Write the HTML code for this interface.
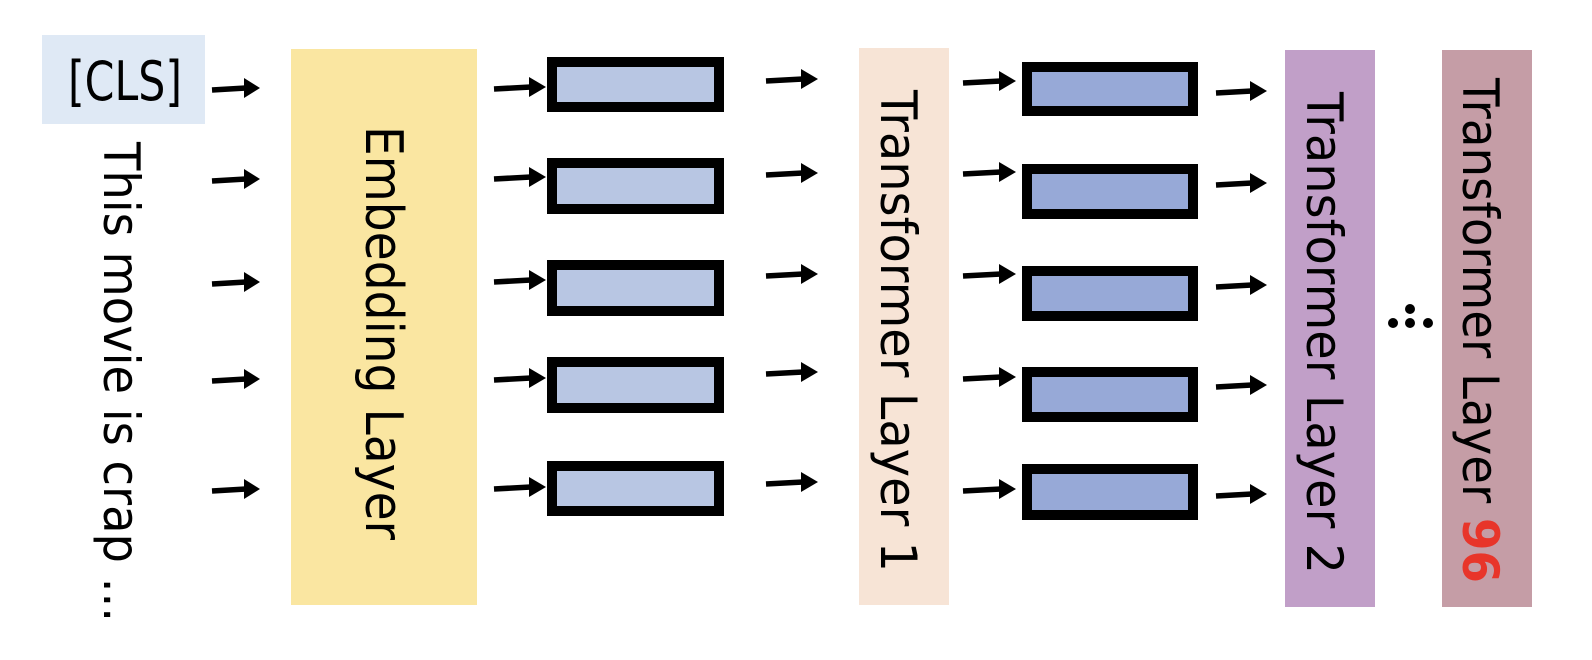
<!DOCTYPE html>
<html><head><meta charset="utf-8"><style>
html,body{margin:0;padding:0;background:#fff;}
svg{display:block;}
text{font-family:"DejaVu Sans","Liberation Sans",sans-serif;}
</style></head><body>
<svg width="1592" height="660" viewBox="0 0 1592 660" xmlns="http://www.w3.org/2000/svg">
<!-- CLS -->
<rect x="42" y="35" width="163" height="89" fill="#dfe9f5"/>
<text x="68" y="100" font-size="54" font-family="Liberation Sans Narrow, Liberation Sans, sans-serif" textLength="114" lengthAdjust="spacingAndGlyphs">[CLS]</text>
<!-- layer boxes -->
<rect x="291" y="49" width="186" height="556" fill="#fae6a1"/>
<rect x="859" y="48" width="90" height="557" fill="#f7e4d6"/>
<rect x="1285" y="50" width="90" height="557" fill="#c19fc8"/>
<rect x="1442" y="50" width="90" height="557" fill="#c59da6"/>
<!-- vertical texts -->
<text transform="translate(104,142) rotate(90)" font-size="50" textLength="480" lengthAdjust="spacingAndGlyphs">This movie is crap ...</text>
<text transform="translate(366,126) rotate(90)" font-size="52" textLength="414" lengthAdjust="spacingAndGlyphs">Embedding Layer</text>
<text transform="translate(881,90) rotate(90)" font-size="50" textLength="482" lengthAdjust="spacingAndGlyphs">Transformer Layer 1</text>
<text transform="translate(1307,92) rotate(90)" font-size="50" textLength="482" lengthAdjust="spacingAndGlyphs">Transformer Layer 2</text>
<text transform="translate(1463,78) rotate(90)" font-size="50" textLength="505" lengthAdjust="spacingAndGlyphs">Transformer Layer <tspan fill="#e8352a" font-weight="bold">96</tspan></text>
<!-- blue boxes -->
<g stroke="#000" stroke-width="10">
<rect x="552" y="62" width="167" height="45" fill="#b8c6e3"/>
<rect x="552" y="163" width="167" height="46" fill="#b8c6e3"/>
<rect x="552" y="265" width="167" height="46" fill="#b8c6e3"/>
<rect x="552" y="362" width="167" height="46" fill="#b8c6e3"/>
<rect x="552" y="466" width="167" height="45" fill="#b8c6e3"/>
<rect x="1027" y="67" width="166" height="44" fill="#97a9d7"/>
<rect x="1027" y="169" width="166" height="45" fill="#97a9d7"/>
<rect x="1027" y="271" width="166" height="45" fill="#97a9d7"/>
<rect x="1027" y="372" width="166" height="45" fill="#97a9d7"/>
<rect x="1027" y="469" width="166" height="46" fill="#97a9d7"/>
</g>
<!-- arrows -->
<g fill="#000" stroke="#000">
<g stroke-width="5.5">
<line x1="212" y1="90" x2="246" y2="88"/><line x1="212" y1="181" x2="246" y2="179"/><line x1="212" y1="284" x2="246" y2="282"/><line x1="212" y1="381" x2="246" y2="379"/><line x1="212" y1="491" x2="246" y2="489"/>
<line x1="494" y1="89" x2="531" y2="87"/><line x1="494" y1="179" x2="531" y2="177"/><line x1="494" y1="282" x2="531" y2="280"/><line x1="494" y1="380" x2="531" y2="378"/><line x1="494" y1="489" x2="531" y2="487"/>
<line x1="766" y1="81" x2="803" y2="79"/><line x1="766" y1="175" x2="803" y2="173"/><line x1="766" y1="276" x2="803" y2="274"/><line x1="766" y1="374" x2="803" y2="372"/><line x1="766" y1="484" x2="803" y2="482"/>
<line x1="963" y1="83" x2="1001" y2="81"/><line x1="963" y1="174" x2="1001" y2="172"/><line x1="963" y1="276" x2="1001" y2="274"/><line x1="963" y1="379" x2="1001" y2="377"/><line x1="963" y1="491" x2="1001" y2="489"/>
<line x1="1216" y1="93" x2="1252" y2="91"/><line x1="1216" y1="185" x2="1252" y2="183"/><line x1="1216" y1="287" x2="1252" y2="285"/><line x1="1216" y1="387" x2="1252" y2="385"/><line x1="1216" y1="496" x2="1252" y2="494"/>
</g>
<g stroke="none">
<polygon points="244,78 260,88 244,98"/><polygon points="244,169 260,179 244,189"/><polygon points="244,272 260,282 244,292"/><polygon points="244,369 260,379 244,389"/><polygon points="244,479 260,489 244,499"/>
<polygon points="529,77 546,87 529,97"/><polygon points="529,167 546,177 529,187"/><polygon points="529,270 546,280 529,290"/><polygon points="529,368 546,378 529,388"/><polygon points="529,477 546,487 529,497"/>
<polygon points="801,69 818,79 801,89"/><polygon points="801,163 818,173 801,183"/><polygon points="801,264 818,274 801,284"/><polygon points="801,362 818,372 801,382"/><polygon points="801,472 818,482 801,492"/>
<polygon points="999,71 1016,81 999,91"/><polygon points="999,162 1016,172 999,182"/><polygon points="999,264 1016,274 999,284"/><polygon points="999,367 1016,377 999,387"/><polygon points="999,479 1016,489 999,499"/>
<polygon points="1250,81 1267,91 1250,101"/><polygon points="1250,173 1267,183 1250,193"/><polygon points="1250,275 1267,285 1250,295"/><polygon points="1250,375 1267,385 1250,395"/><polygon points="1250,484 1267,494 1250,504"/>
</g>
</g>
<!-- ellipsis -->
<g fill="#000">
<circle cx="1393" cy="323" r="5"/><circle cx="1410" cy="323" r="5"/><circle cx="1428" cy="323" r="5"/><circle cx="1410" cy="309" r="5"/>
</g>
</svg>
</body></html>
